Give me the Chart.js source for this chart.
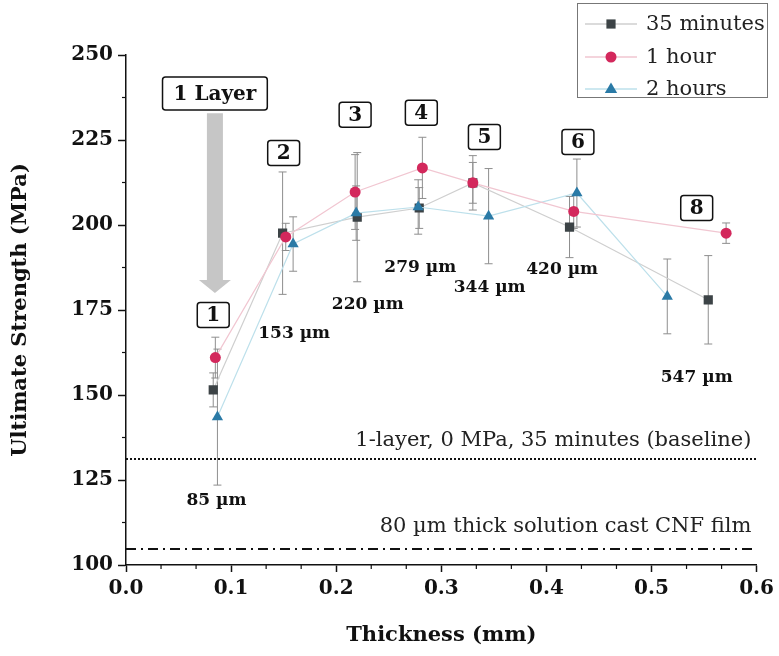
<!DOCTYPE html>
<html>
<head>
<meta charset="utf-8">
<script src="https://cdn.jsdelivr.net/npm/chart.js@4.4.1/dist/chart.umd.min.js"></script>
<style>
  html, body { margin: 0; padding: 0; background: #fff; }
</style>
</head>
<body>
<canvas id="chart" width="779" height="656"></canvas>
<script>
// dados (espessura em mm, resistência em MPa)
const thick35 = [0.083, 0.149, 0.220, 0.279, 0.330, 0.422, 0.554];
const str35 = [151.5, 197.6, 202.3, 205.0, 212.4, 199.4, 178.0];
const err35 = [5, 18, 19, 6, 8, 9, 13];

const thick1h = [0.085, 0.152, 0.218, 0.282, 0.330, 0.426, 0.571];
const str1h = [161.0, 196.5, 209.7, 216.8, 212.4, 204.0, 197.6];
const err1h = [6, 4, 11, 9, 6, 5, 3];

const thick2h = [0.087, 0.159, 0.219, 0.278, 0.345, 0.429, 0.515];
const str2h = [143.5, 194.4, 203.5, 205.3, 202.6, 209.4, 179.0];
const err2h = [20, 8, 8, 8, 14, 10, 11];

const baselineValue = 131.2;
const castFilmValue = 104.7;

// caixas numeradas e rótulos de espessura
const boxLabels = ['1', '2', '3', '4', '5', '6', '8'];
const boxX = [0.083, 0.150, 0.218, 0.281, 0.341, 0.430, 0.543];
const boxY = [173.5, 221.2, 232.4, 233.0, 225.9, 224.4, 205.0];

const umLabels = ['85 µm', '153 µm', '220 µm', '279 µm', '344 µm', '420 µm', '547 µm'];
const umX = [0.086, 0.160, 0.230, 0.280, 0.346, 0.415, 0.543];
const umY = [119.0, 168.2, 176.5, 187.4, 181.5, 186.8, 155.0];

const xTicks = [0, 0.1, 0.2, 0.3, 0.4, 0.5, 0.6];
const yTicks = [100, 125, 150, 175, 200, 225, 250];

const serif = '"DejaVu Serif", "Liberation Serif", serif';

const toPoints = (xs, ys) => xs.map((x, i) => ({ x: x, y: ys[i] }));

// order: menor valor fica por cima
const series = [
  { label: '35 minutes', xs: thick35, ys: str35, err: err35, style: 'rect', color: '#3c4346', line: '#cfcfcf', radius: 6.5, order: 2 },
  { label: '1 hour', xs: thick1h, ys: str1h, err: err1h, style: 'circle', color: '#d3285c', line: '#f1c6d1', radius: 5.5, order: 0 },
  { label: '2 hours', xs: thick2h, ys: str2h, err: err2h, style: 'triangle', color: '#2a7aa6', line: '#bde0eb', radius: 6.5, order: 1 },
];

//Função pra desenhar caixa com texto
const drawBox = (ctx, text, cx, cy, font, padX, h) => {
  ctx.font = font;
  const w = ctx.measureText(text).width + padX * 2;
  ctx.fillStyle = '#fff';
  ctx.strokeStyle = '#111';
  ctx.lineWidth = 1.5;
  ctx.beginPath();
  ctx.roundRect(cx - w / 2, cy - h / 2, w, h, 3);
  ctx.fill();
  ctx.stroke();
  ctx.fillStyle = '#111';
  ctx.textAlign = 'center';
  ctx.textBaseline = 'middle';
  ctx.fillText(text, cx, cy + 1);
};

const drawMarker = (ctx, style, color, x, y, r) => {
  ctx.fillStyle = color;
  ctx.beginPath();
  if (style === 'rect') {
    const s = r * Math.SQRT1_2;
    ctx.rect(x - s, y - s, s * 2, s * 2);
  } else if (style === 'circle') {
    ctx.arc(x, y, r, 0, Math.PI * 2);
  } else {
    ctx.moveTo(x, y - r);
    ctx.lineTo(x + r * 0.95, y + r * 0.6);
    ctx.lineTo(x - r * 0.95, y + r * 0.6);
    ctx.closePath();
  }
  ctx.fill();
};

const annotate = {
  id: 'annotate',
  beforeDatasetsDraw(chart) {
    const { ctx, scales: { x, y } } = chart;
    ctx.save();
    // seta "1 Layer"
    const ax = x.getPixelForValue(0.0846);
    const top = y.getPixelForValue(232.9);
    const base = y.getPixelForValue(183.8);
    const tip = y.getPixelForValue(180.0);
    ctx.fillStyle = '#c6c6c6';
    ctx.beginPath();
    ctx.moveTo(ax - 8, top);
    ctx.lineTo(ax + 8, top);
    ctx.lineTo(ax + 8, base);
    ctx.lineTo(ax + 16, base);
    ctx.lineTo(ax, tip);
    ctx.lineTo(ax - 16, base);
    ctx.lineTo(ax - 8, base);
    ctx.closePath();
    ctx.fill();

    // barras de erro
    ctx.strokeStyle = '#8e8e8e';
    ctx.lineWidth = 1;
    series.forEach((s) => {
      s.xs.forEach((xv, i) => {
        const px = x.getPixelForValue(xv);
        const y1 = y.getPixelForValue(s.ys[i] + s.err[i]);
        const y2 = y.getPixelForValue(s.ys[i] - s.err[i]);
        ctx.beginPath();
        ctx.moveTo(px, y1);
        ctx.lineTo(px, y2);
        ctx.moveTo(px - 4, y1);
        ctx.lineTo(px + 4, y1);
        ctx.moveTo(px - 4, y2);
        ctx.lineTo(px + 4, y2);
        ctx.stroke();
      });
    });
    ctx.restore();
  },
  afterDraw(chart) {
    const { ctx, scales: { x, y } } = chart;
    ctx.save();

    // ticks menores
    ctx.strokeStyle = '#111';
    ctx.lineWidth = 1.2;
    const x0 = x.getPixelForValue(0);
    const yb = y.getPixelForValue(100);
    for (let v = 112.5; v < 250; v += 25) {
      const py = y.getPixelForValue(v);
      ctx.beginPath();
      ctx.moveTo(x0, py);
      ctx.lineTo(x0 - 4, py);
      ctx.stroke();
    }
    for (let k = 0; k < 18; k++) {
      if (k % 3 === 0) continue;
      const px = x.getPixelForValue(k * 0.1 / 3);
      ctx.beginPath();
      ctx.moveTo(px, yb);
      ctx.lineTo(px, yb + 4);
      ctx.stroke();
    }

    // textos das linhas de referência
    ctx.fillStyle = '#222';
    ctx.font = '21px ' + serif;
    ctx.textAlign = 'right';
    ctx.textBaseline = 'middle';
    ctx.fillText('1-layer, 0 MPa, 35 minutes (baseline)', x.getPixelForValue(0.595), y.getPixelForValue(136.5));
    ctx.fillText('80 µm thick solution cast CNF film', x.getPixelForValue(0.595), y.getPixelForValue(111.2));

    // rótulos de espessura
    ctx.fillStyle = '#111';
    ctx.font = 'bold 17px ' + serif;
    ctx.textAlign = 'center';
    umLabels.forEach((t, i) => {
      ctx.fillText(t, x.getPixelForValue(umX[i]), y.getPixelForValue(umY[i]));
    });

    // caixas
    boxLabels.forEach((t, i) => {
      drawBox(ctx, t, x.getPixelForValue(boxX[i]), y.getPixelForValue(boxY[i]), 'bold 20px ' + serif, 9, 25);
    });
    drawBox(ctx, '1 Layer', x.getPixelForValue(0.0846), y.getPixelForValue(238.7), 'bold 20px ' + serif, 11, 33);

    // legenda
    ctx.fillStyle = '#fff';
    ctx.fillRect(577, 3, 191, 95);
    ctx.strokeStyle = '#777';
    ctx.lineWidth = 1;
    ctx.strokeRect(577.5, 3.5, 190, 94);
    const legendY = [24, 57, 89];
    series.forEach((s, i) => {
      const ly = legendY[i];
      ctx.strokeStyle = s.line;
      ctx.lineWidth = 1.5;
      ctx.beginPath();
      ctx.moveTo(585, ly);
      ctx.lineTo(637, ly);
      ctx.stroke();
      drawMarker(ctx, s.style, s.color, 611, ly, s.radius);
      ctx.fillStyle = '#222';
      ctx.font = '21px ' + serif;
      ctx.textAlign = 'left';
      ctx.textBaseline = 'middle';
      ctx.fillText(s.label, 646, ly + 1);
    });
    ctx.restore();
  },
};

const datasets = series.map((s) => ({
  label: s.label,
  data: toPoints(s.xs, s.ys),
  order: s.order,
  showLine: true,
  borderColor: s.line,
  borderWidth: 1.2,
  pointStyle: s.style,
  pointRadius: s.radius,
  pointBackgroundColor: s.color,
  pointBorderColor: s.color,
  pointBorderWidth: 0,
  tension: 0,
}));

datasets.push({
  label: 'baseline',
  data: [{ x: 0, y: baselineValue }, { x: 0.6, y: baselineValue }],
  order: 3,
  showLine: true,
  borderColor: '#111',
  borderWidth: 2,
  borderDash: [2, 2],
  pointRadius: 0,
});
datasets.push({
  label: 'cast film',
  data: [{ x: 0, y: castFilmValue }, { x: 0.6, y: castFilmValue }],
  order: 3,
  showLine: true,
  borderColor: '#111',
  borderWidth: 2.2,
  borderDash: [10, 5, 2, 5],
  pointRadius: 0,
});

new Chart(document.getElementById('chart'), {
  type: 'scatter',
  data: { datasets: datasets },
  options: {
    responsive: false,
    animation: false,
    layout: { padding: { top: 55, right: 22, left: 0, bottom: 0 } },
    plugins: {
      legend: { display: false },
      tooltip: { enabled: false },
    },
    scales: {
      x: {
        type: 'linear',
        min: 0,
        max: 0.6,
        afterBuildTicks: (scale) => {
          scale.ticks = xTicks.map((v) => ({ value: v }));
        },
        afterFit: (scale) => {
          scale.height = 91;
        },
        ticks: {
          color: '#111',
          padding: 5,
          maxRotation: 0,
          font: { family: serif, size: 20, weight: 'bold' },
          callback: (v) => Number(v).toFixed(1),
        },
        grid: { drawOnChartArea: false, drawTicks: true, tickLength: 7, tickColor: '#111', tickWidth: 1.5 },
        border: { display: true, color: '#111', width: 1.5 },
        title: {
          display: true,
          text: 'Thickness (mm)',
          color: '#111',
          font: { family: serif, size: 21, weight: 'bold' },
          padding: { top: 0, bottom: 8 },
        },
      },
      y: {
        type: 'linear',
        min: 100,
        max: 250,
        afterBuildTicks: (scale) => {
          scale.ticks = yTicks.map((v) => ({ value: v }));
        },
        afterFit: (scale) => {
          scale.width = 126;
        },
        ticks: {
          color: '#111',
          padding: 5,
          font: { family: serif, size: 20, weight: 'bold' },
        },
        grid: { drawOnChartArea: false, drawTicks: true, tickLength: 8, tickColor: '#111', tickWidth: 1.5 },
        border: { display: true, color: '#111', width: 1.5 },
        title: {
          display: true,
          text: 'Ultimate Strength (MPa)',
          color: '#111',
          font: { family: serif, size: 21, weight: 'bold' },
          padding: { top: 8, bottom: 0 },
        },
      },
    },
  },
  plugins: [annotate],
});
</script>
</body>
</html>
